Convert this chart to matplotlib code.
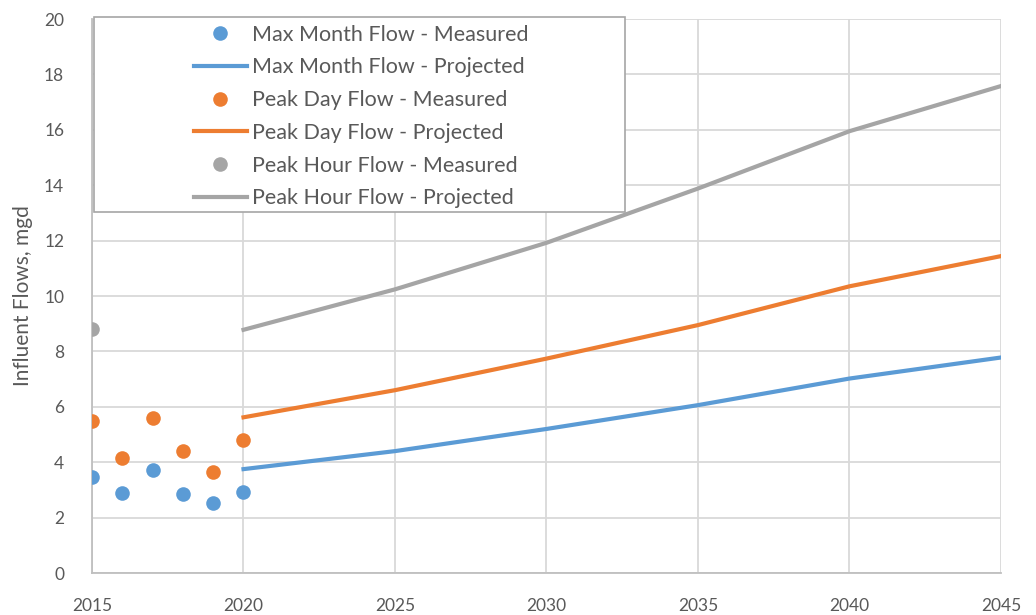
import matplotlib
matplotlib.use("Agg")
import matplotlib.pyplot as plt
from matplotlib.patches import Rectangle

# measured data (yearly)
years_measured = [2015, 2016, 2017, 2018, 2019, 2020]
max_month_measured = [3.47, 2.89, 3.72, 2.85, 2.53, 2.92]
peak_day_measured = [5.49, 4.15, 5.60, 4.40, 3.65, 4.80]
years_hour_measured = [2015]
peak_hour_measured = [8.80]

# projections
years_projected = [2020, 2025, 2030, 2035, 2040, 2045]
max_month_projected = [3.75, 4.40, 5.20, 6.06, 7.02, 7.78]
peak_day_projected = [5.62, 6.60, 7.74, 8.95, 10.35, 11.44]
peak_hour_projected = [8.78, 10.24, 11.92, 13.88, 15.95, 17.58]

blue = '#5B9BD5'
orange = '#ED7D31'
gray = '#A5A5A5'
text_color = '#595959'

plt.rcParams['font.family'] = ['Lato', 'DejaVu Sans']

fig = plt.figure(figsize=(10.36, 6.15), dpi=100)
ax = fig.add_axes([92 / 1036, 42 / 615, 909 / 1036, 554 / 615])

ms = 10.5
lw = 3.0
ax.plot(years_measured, max_month_measured, 'o', color=blue, ms=ms, mec='none',
        label='Max Month Flow - Measured', zorder=3)
ax.plot(years_projected, max_month_projected, '-', color=blue, lw=lw,
        label='Max Month Flow - Projected', zorder=3)
ax.plot(years_measured, peak_day_measured, 'o', color=orange, ms=ms, mec='none',
        label='Peak Day Flow - Measured', zorder=3)
ax.plot(years_projected, peak_day_projected, '-', color=orange, lw=lw,
        label='Peak Day Flow - Projected', zorder=3)
ax.plot(years_hour_measured, peak_hour_measured, 'o', color=gray, ms=ms, mec='none',
        label='Peak Hour Flow - Measured', zorder=3)
ax.plot(years_projected, peak_hour_projected, '-', color=gray, lw=lw,
        label='Peak Hour Flow - Projected', zorder=3)

ax.set_xlim(2015, 2045)
ax.set_ylim(0, 20)
ax.set_xticks(range(2015, 2046, 5))
ax.set_yticks(range(0, 21, 2))
ax.grid(True, color='#D9D9D9', lw=1.3)
ax.set_axisbelow(True)
for side in ['top', 'right']:
    ax.spines[side].set_visible(False)
for side in ['left', 'bottom']:
    ax.spines[side].set_color('#BFBFBF')
    ax.spines[side].set_linewidth(1.3)
ax.tick_params(length=0, labelsize=12.5, colors=text_color)
ax.tick_params(axis='x', pad=18)
ax.tick_params(axis='y', pad=20)
ax.set_ylabel('Influent Flows, mgd', fontsize=15, color=text_color, labelpad=8)

# legend box (sized by hand, as in the original)
box = Rectangle((94 / 1036, (615 - 212) / 615), 531 / 1036, 195 / 615,
                transform=fig.transFigure, facecolor='white',
                edgecolor='#A6A6A6', lw=1.2, zorder=4, clip_on=False)
ax.add_patch(box)

leg = ax.legend(loc='upper left', bbox_to_anchor=(183 / 1036, 601 / 615),
                bbox_transform=fig.transFigure, frameon=False, fontsize=15.5,
                labelcolor=text_color, handlelength=2.45, handletextpad=0.25,
                labelspacing=0.59, borderpad=0)
leg.set_zorder(5)

fig.savefig('out.png', dpi=100)
